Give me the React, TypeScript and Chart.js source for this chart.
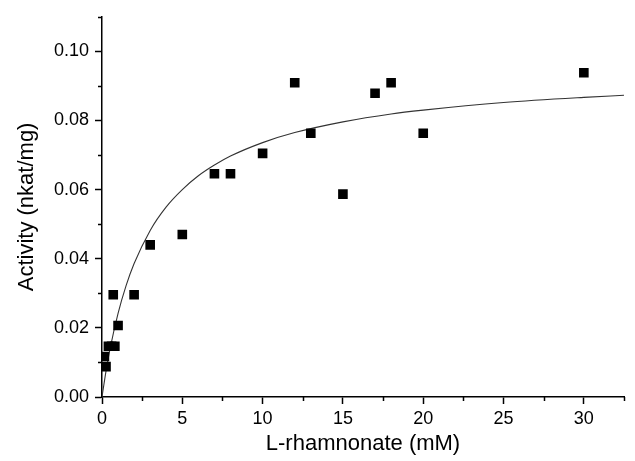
import React, { useEffect, useRef } from "react";
import { Chart, registerables } from "chart.js";

Chart.register(...registerables);

// Measured data: L-rhamnonate concentration (mM) vs activity (nkat/mg)
const concentrations = [0.15, 0.25, 0.4, 0.6, 0.7, 0.8, 1, 2, 3, 5, 7, 8, 10, 12, 13, 15, 17, 18, 20, 30];
const activities = [0.0117, 0.0088, 0.0147, 0.0147, 0.0296, 0.0147, 0.0207, 0.0296, 0.044, 0.047, 0.0646, 0.0646, 0.0705, 0.0909, 0.0763, 0.0587, 0.0879, 0.0909, 0.0763, 0.0938];

// Fitted curve
const fitX = [0, 0.25, 0.5, 1, 1.5, 2, 3, 4, 5, 6, 7, 8, 10, 12, 15, 18, 20, 25, 30, 32.5];
const fitY = [0, 0.0075, 0.0139, 0.0242, 0.0322, 0.0386, 0.0482, 0.055, 0.06, 0.064, 0.0671, 0.0697, 0.0736, 0.0765, 0.0796, 0.0819, 0.083, 0.0852, 0.0867, 0.0873];

const xTickValues = [0, 5, 10, 15, 20, 25, 30];
const xMinorTicks = [2.5, 7.5, 12.5, 17.5, 22.5, 27.5, 32.5];
const yTickValues = [0, 0.02, 0.04, 0.06, 0.08, 0.1];
const yMinorTicks = [0.01, 0.03, 0.05, 0.07, 0.09, 0.11];

const X_MAX = 32.5;
const Y_MAX = 0.11;

const FONT = "'Liberation Sans', Arial, sans-serif";

const minorTicksPlugin = {
  id: "minorTicks",
  afterDraw(chart: any) {
    const { ctx, chartArea } = chart;
    const xs = chart.scales.x;
    const ys = chart.scales.y;
    ctx.save();
    ctx.strokeStyle = "#000";
    ctx.lineWidth = 1.5;
    ctx.beginPath();
    xMinorTicks.forEach((v) => {
      const px = Math.round(xs.getPixelForValue(v)) + 0.5;
      ctx.moveTo(px, chartArea.bottom);
      ctx.lineTo(px, chartArea.bottom + 4);
    });
    yMinorTicks.forEach((v) => {
      const py = Math.round(ys.getPixelForValue(v)) + 0.5;
      ctx.moveTo(chartArea.left, py);
      ctx.lineTo(chartArea.left - 4, py);
    });
    ctx.stroke();
    ctx.restore();
  },
};

export default function App() {
  const canvasRef = useRef<HTMLCanvasElement | null>(null);

  useEffect(() => {
    document.body.style.margin = "0";
    const canvas = canvasRef.current;
    if (!canvas) return;

    const scatterData = concentrations.map((x, i) => ({ x, y: activities[i] }));
    const fitData = fitX.map((x, i) => ({ x, y: fitY[i] }));

    const chart = new Chart(canvas, {
      type: "scatter",
      data: {
        datasets: [
          {
            type: "scatter",
            label: "Activity",
            data: scatterData,
            pointStyle: "rect",
            pointRadius: 6.8,
            pointBackgroundColor: "#000",
            pointBorderColor: "#000",
            pointBorderWidth: 0,
            order: 1,
          },
          {
            type: "line",
            label: "Fit",
            data: fitData,
            borderColor: "#333",
            borderWidth: 1.1,
            pointRadius: 0,
            cubicInterpolationMode: "monotone",
            fill: false,
            order: 2,
          } as any,
        ],
      },
      options: {
        responsive: true,
        maintainAspectRatio: false,
        animation: false,
        layout: { padding: { top: 13, right: 11, left: 0, bottom: 0 } },
        plugins: {
          legend: { display: false },
          tooltip: { enabled: false },
        },
        scales: {
          x: {
            type: "linear",
            min: 0,
            max: X_MAX,
            afterFit: (scale: any) => {
              scale.height = 64;
            },
            afterBuildTicks: (scale: any) => {
              scale.ticks = xTickValues.map((v) => ({ value: v }));
            },
            border: { display: true, color: "#000", width: 1.5 },
            grid: {
              drawOnChartArea: false,
              drawTicks: true,
              tickLength: 7,
              tickColor: "#000",
              tickWidth: 1.5,
            },
            ticks: {
              color: "#000",
              padding: 4,
              font: { family: FONT, size: 18 },
              maxRotation: 0,
              callback: (v: any) => String(v),
            },
            title: {
              display: true,
              text: "L-rhamnonate (mM)",
              color: "#000",
              font: { family: FONT, size: 22 },
              padding: { top: 0, bottom: 4 },
            },
          },
          y: {
            type: "linear",
            min: 0,
            max: Y_MAX,
            afterFit: (scale: any) => {
              scale.width = 102;
            },
            afterBuildTicks: (scale: any) => {
              scale.ticks = yTickValues.map((v) => ({ value: v }));
            },
            border: { display: true, color: "#000", width: 1.5 },
            grid: {
              drawOnChartArea: false,
              drawTicks: true,
              tickLength: 7,
              tickColor: "#000",
              tickWidth: 1.5,
            },
            ticks: {
              color: "#000",
              padding: 6,
              font: { family: FONT, size: 18 },
              callback: (v: any) => Number(v).toFixed(2),
            },
            title: {
              display: true,
              text: "Activity (nkat/mg)",
              color: "#000",
              font: { family: FONT, size: 22 },
              padding: { top: 14, bottom: 0 },
            },
          },
        },
      },
      plugins: [minorTicksPlugin],
    });

    return () => {
      chart.destroy();
    };
  }, []);

  return (
    <div style={{ position: "relative", width: 635, height: 461 }}>
      <canvas ref={canvasRef} />
    </div>
  );
}
